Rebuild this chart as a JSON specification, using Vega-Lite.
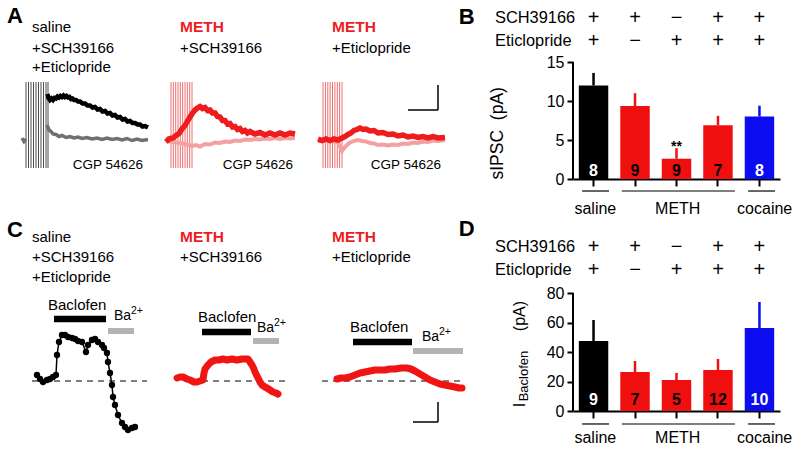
{
  "$schema": "https://vega.github.io/schema/vega-lite/v6.json",
  "background": "white",
  "padding": 0,
  "columns": 4,
  "bounds": "flush",
  "align": "each",
  "spacing": {"row": 41, "column": 0},
  "config": {
    "view": {"stroke": null},
    "font": "Liberation Sans",
    "axis": {"grid": false, "domainColor": "black", "tickColor": "black", "labelColor": "black", "titleColor": "black", "labelFont": "Liberation Sans", "titleFont": "Liberation Sans"}
  },
  "datasets": {
    "a1_stim": [{"t":40,"I":116,"I2":-56},{"t":65,"I":116,"I2":-56},{"t":90,"I":116,"I2":-56},{"t":115,"I":116,"I2":-56},{"t":140,"I":116,"I2":-56},{"t":165,"I":116,"I2":-56},{"t":190,"I":116,"I2":-56},{"t":215,"I":116,"I2":-56},{"t":240,"I":116,"I2":-56},{"t":260,"I":116,"I2":-56}],
    "a1_pre": [{"t":0,"I":4},{"t":20,"I":-3},{"t":40,"I":2}],
    "a1_gray": [{"t":250,"I":30},{"t":270,"I":20},{"t":290,"I":17},{"t":310,"I":12},{"t":340,"I":11},{"t":370,"I":7},{"t":400,"I":9},{"t":440,"I":5},{"t":480,"I":7},{"t":520,"I":4},{"t":560,"I":6},{"t":600,"I":3},{"t":650,"I":5},{"t":700,"I":2},{"t":750,"I":4},{"t":800,"I":1},{"t":850,"I":4},{"t":900,"I":1},{"t":950,"I":3},{"t":1000,"I":0},{"t":1050,"I":3},{"t":1100,"I":-1},{"t":1150,"I":2},{"t":1200,"I":-1},{"t":1260,"I":1}],
    "a1_black": [{"t":255,"I":92},{"t":265,"I":84},{"t":280,"I":80},{"t":295,"I":83},{"t":310,"I":80},{"t":325,"I":84},{"t":340,"I":83},{"t":355,"I":87},{"t":370,"I":85},{"t":385,"I":88},{"t":400,"I":86},{"t":415,"I":89},{"t":430,"I":86},{"t":445,"I":88},{"t":460,"I":85},{"t":475,"I":86},{"t":490,"I":82},{"t":505,"I":83},{"t":520,"I":80},{"t":540,"I":80},{"t":560,"I":77},{"t":580,"I":77},{"t":605,"I":73},{"t":630,"I":73},{"t":655,"I":69},{"t":680,"I":69},{"t":705,"I":65},{"t":730,"I":66},{"t":755,"I":61},{"t":780,"I":62},{"t":805,"I":57},{"t":830,"I":58},{"t":855,"I":53},{"t":880,"I":54},{"t":905,"I":49},{"t":930,"I":50},{"t":955,"I":45},{"t":980,"I":46},{"t":1005,"I":41},{"t":1030,"I":42},{"t":1055,"I":37},{"t":1080,"I":38},{"t":1105,"I":34},{"t":1130,"I":34},{"t":1155,"I":31},{"t":1180,"I":31},{"t":1205,"I":27},{"t":1230,"I":28},{"t":1260,"I":25}],
    "a1_letter": [{"t":-150,"I":248,"label":"A"}],
    "a1_txt": [{"t":100,"I":226,"label":"saline"},{"t":100,"I":184,"label":"+SCH39166"},{"t":100,"I":146,"label":"+Eticlopride"}],
    "a1_cgp": [{"t":1210,"I":-50,"label":"CGP 54626"}],
    "a2_stim": [{"t":40,"I":116,"I2":-56},{"t":63,"I":116,"I2":-56},{"t":87,"I":116,"I2":-56},{"t":110,"I":116,"I2":-56},{"t":133,"I":116,"I2":-56},{"t":157,"I":116,"I2":-56},{"t":180,"I":116,"I2":-56},{"t":203,"I":116,"I2":-56},{"t":227,"I":116,"I2":-56},{"t":250,"I":116,"I2":-56}],
    "a2_pink": [{"t":-10,"I":-2},{"t":60,"I":-4},{"t":120,"I":-6},{"t":180,"I":-8},{"t":250,"I":-12},{"t":290,"I":-10},{"t":330,"I":-13},{"t":380,"I":-8},{"t":430,"I":-9},{"t":480,"I":-5},{"t":530,"I":-6},{"t":580,"I":-3},{"t":630,"I":-4},{"t":680,"I":-1},{"t":730,"I":-2},{"t":780,"I":1},{"t":830,"I":0},{"t":880,"I":2},{"t":930,"I":1},{"t":980,"I":3},{"t":1030,"I":2},{"t":1080,"I":4},{"t":1130,"I":2},{"t":1180,"I":4},{"t":1230,"I":3},{"t":1280,"I":4}],
    "a2_red": [{"t":-10,"I":4},{"t":10,"I":0},{"t":30,"I":3},{"t":60,"I":4},{"t":90,"I":9},{"t":120,"I":13},{"t":150,"I":22},{"t":180,"I":29},{"t":200,"I":36},{"t":230,"I":46},{"t":255,"I":54},{"t":280,"I":60},{"t":305,"I":64},{"t":330,"I":67},{"t":355,"I":63},{"t":380,"I":65},{"t":405,"I":59},{"t":430,"I":60},{"t":455,"I":54},{"t":480,"I":54},{"t":505,"I":47},{"t":530,"I":46},{"t":555,"I":39},{"t":580,"I":39},{"t":605,"I":32},{"t":630,"I":33},{"t":655,"I":26},{"t":680,"I":27},{"t":705,"I":21},{"t":730,"I":23},{"t":755,"I":17},{"t":780,"I":19},{"t":805,"I":14},{"t":830,"I":17},{"t":880,"I":12},{"t":930,"I":15},{"t":980,"I":10},{"t":1030,"I":14},{"t":1080,"I":10},{"t":1130,"I":14},{"t":1180,"I":10},{"t":1230,"I":14},{"t":1280,"I":12}],
    "a2_meth": [{"t":130,"I":226,"label":"METH"}],
    "a2_txt": [{"t":130,"I":184,"label":"+SCH39166"}],
    "a2_cgp": [{"t":1260,"I":-50,"label":"CGP 54626"}],
    "a3_stim": [{"t":50,"I":116,"I2":-56},{"t":74,"I":116,"I2":-56},{"t":98,"I":116,"I2":-56},{"t":121,"I":116,"I2":-56},{"t":145,"I":116,"I2":-56},{"t":169,"I":116,"I2":-56},{"t":193,"I":116,"I2":-56},{"t":216,"I":116,"I2":-56},{"t":240,"I":116,"I2":-56}],
    "a3_pink": [{"t":0,"I":-2},{"t":100,"I":-2},{"t":200,"I":-4},{"t":240,"I":-22},{"t":260,"I":-16},{"t":290,"I":-10},{"t":320,"I":-5},{"t":360,"I":-2},{"t":400,"I":0},{"t":440,"I":-2},{"t":480,"I":-3},{"t":520,"I":-6},{"t":560,"I":-7},{"t":600,"I":-10},{"t":650,"I":-9},{"t":700,"I":-11},{"t":750,"I":-9},{"t":800,"I":-10},{"t":850,"I":-7},{"t":900,"I":-8},{"t":950,"I":-5},{"t":1000,"I":-6},{"t":1050,"I":-3},{"t":1100,"I":-4},{"t":1150,"I":-1},{"t":1200,"I":-2},{"t":1270,"I":0}],
    "a3_red": [{"t":0,"I":2},{"t":40,"I":-1},{"t":80,"I":2},{"t":120,"I":-1},{"t":160,"I":2},{"t":200,"I":0},{"t":240,"I":4},{"t":270,"I":7},{"t":300,"I":11},{"t":330,"I":14},{"t":360,"I":19},{"t":390,"I":21},{"t":420,"I":24},{"t":450,"I":21},{"t":480,"I":22},{"t":520,"I":18},{"t":560,"I":19},{"t":600,"I":14},{"t":650,"I":15},{"t":700,"I":11},{"t":750,"I":12},{"t":800,"I":8},{"t":850,"I":10},{"t":900,"I":6},{"t":950,"I":8},{"t":1000,"I":5},{"t":1050,"I":7},{"t":1100,"I":4},{"t":1150,"I":7},{"t":1200,"I":4},{"t":1270,"I":5}],
    "a3_meth": [{"t":140,"I":226,"label":"METH"}],
    "a3_txt": [{"t":140,"I":184,"label":"+Eticlopride"}],
    "a3_cgp": [{"t":1230,"I":-50,"label":"CGP 54626"}],
    "a3_bar": [{"t":1200,"I":60,"t2":1200,"I2":110},{"t":900,"I":60,"t2":1200,"I2":60}],
    "c1_trace": [{"t":0.5,"I":6},{"t":0.8,"I":2},{"t":1.1,"I":-1},{"t":1.5,"I":1},{"t":1.8,"I":2},{"t":2.1,"I":4},{"t":2.4,"I":6},{"t":2.5,"I":26},{"t":2.7,"I":39},{"t":3.0,"I":46},{"t":3.3,"I":46},{"t":3.6,"I":44},{"t":4.0,"I":43},{"t":4.3,"I":42},{"t":4.6,"I":40},{"t":5.0,"I":39},{"t":5.4,"I":29},{"t":5.6,"I":36},{"t":6.0,"I":41},{"t":6.3,"I":42},{"t":6.6,"I":39},{"t":7.0,"I":36},{"t":7.2,"I":33},{"t":7.5,"I":28},{"t":7.6,"I":19},{"t":7.8,"I":8},{"t":8.0,"I":-4},{"t":8.1,"I":-16},{"t":8.3,"I":-24},{"t":8.6,"I":-34},{"t":9.0,"I":-42},{"t":9.3,"I":-46},{"t":9.6,"I":-49},{"t":10.0,"I":-47},{"t":10.3,"I":-46}],
    "c1_dash": [{"t":0,"t2":11.5,"I":0}],
    "c1_bac": [{"t":2.2,"t2":7.4,"I":62}],
    "c1_ba": [{"t":7.6,"t2":10.2,"I":50}],
    "c1_letter": [{"t":-2.5,"I":151,"label":"C"}],
    "c1_txt": [{"t":0,"I":144,"label":"saline"},{"t":0,"I":124,"label":"+SCH39166"},{"t":0,"I":104,"label":"+Eticlopride"},{"t":1.6,"I":76,"label":"Baclofen"}],
    "c1_ba_txt": [{"t":8.2,"I":65,"label":"Ba"}],
    "c1_sup": [{"t":9.9,"I":70,"label":"2+"}],
    "c2_trace": [{"t":0,"I":3},{"t":0.3,"I":4},{"t":0.6,"I":4},{"t":1.0,"I":2},{"t":1.3,"I":1},{"t":1.7,"I":-1},{"t":2.0,"I":-1},{"t":2.3,"I":0},{"t":2.6,"I":1},{"t":2.7,"I":8},{"t":2.8,"I":12},{"t":3.1,"I":16},{"t":3.4,"I":19},{"t":3.8,"I":21},{"t":4.2,"I":21},{"t":4.6,"I":22},{"t":5.0,"I":21},{"t":5.5,"I":22},{"t":6.0,"I":21},{"t":6.5,"I":22},{"t":7.1,"I":22},{"t":7.3,"I":19},{"t":7.5,"I":16},{"t":7.7,"I":12},{"t":7.8,"I":9},{"t":8.0,"I":5},{"t":8.1,"I":3},{"t":8.3,"I":-1},{"t":8.5,"I":-4},{"t":8.8,"I":-6},{"t":9.0,"I":-7},{"t":9.3,"I":-9},{"t":9.6,"I":-11},{"t":9.9,"I":-12},{"t":10.1,"I":-13}],
    "c2_dash": [{"t":2.5,"t2":11.3,"I":0}],
    "c2_bac": [{"t":2.5,"t2":7.4,"I":49}],
    "c2_ba": [{"t":7.6,"t2":10.2,"I":40}],
    "c2_meth": [{"t":0.3,"I":144,"label":"METH"}],
    "c2_txt": [{"t":0.3,"I":124,"label":"+SCH39166"},{"t":2.1,"I":64,"label":"Baclofen"}],
    "c2_ba_txt": [{"t":8.0,"I":53,"label":"Ba"}],
    "c2_sup": [{"t":9.7,"I":58,"label":"2+"}],
    "c3_trace": [{"t":1.5,"I":2},{"t":1.9,"I":3},{"t":2.3,"I":3},{"t":2.8,"I":4},{"t":3.3,"I":6},{"t":3.8,"I":8},{"t":4.3,"I":9},{"t":4.8,"I":10},{"t":5.3,"I":11},{"t":5.8,"I":11},{"t":6.3,"I":11},{"t":6.8,"I":12},{"t":7.3,"I":12},{"t":7.9,"I":13},{"t":8.5,"I":13},{"t":8.9,"I":12},{"t":9.3,"I":10},{"t":9.8,"I":7},{"t":10.3,"I":4},{"t":10.8,"I":1},{"t":11.3,"I":-1},{"t":11.8,"I":-3},{"t":12.3,"I":-4},{"t":12.8,"I":-5},{"t":13.3,"I":-6},{"t":13.7,"I":-7},{"t":14.0,"I":-7}],
    "c3_dash": [{"t":0,"t2":14.0,"I":0}],
    "c3_bac": [{"t":3.1,"t2":9.0,"I":39}],
    "c3_ba": [{"t":9.1,"t2":14.1,"I":30}],
    "c3_meth": [{"t":1.0,"I":144,"label":"METH"}],
    "c3_txt": [{"t":1.0,"I":124,"label":"+Eticlopride"},{"t":2.8,"I":54,"label":"Baclofen"}],
    "c3_ba_txt": [{"t":10.0,"I":44.5,"label":"Ba"}],
    "c3_sup": [{"t":11.7,"I":49,"label":"2+"}],
    "c3_bar": [{"t":11.6,"I":-21,"t2":11.6,"I2":-41},{"t":9.1,"I":-41,"t2":11.6,"I2":-41}],
    "sipsc": [
      {"cond":"saline","mean":12.0,"hi":13.6,"n":"8","sch":"+","eti":"+","sig":""},
      {"cond":"METH SCH","mean":9.35,"hi":11.0,"n":"9","sch":"+","eti":"−","sig":""},
      {"cond":"METH Etic","mean":2.6,"hi":3.95,"n":"9","sch":"−","eti":"+","sig":"**"},
      {"cond":"METH SCH+Etic","mean":6.9,"hi":8.1,"n":"7","sch":"+","eti":"+","sig":""},
      {"cond":"cocaine","mean":8.0,"hi":9.4,"n":"8","sch":"+","eti":"+","sig":""}
    ],
    "ibac": [
      {"cond":"saline","mean":47.5,"hi":61.7,"n":"9","sch":"+","eti":"+"},
      {"cond":"METH SCH","mean":26.4,"hi":33.9,"n":"7","sch":"+","eti":"−"},
      {"cond":"METH Etic","mean":21.0,"hi":25.8,"n":"5","sch":"−","eti":"+"},
      {"cond":"METH SCH+Etic","mean":27.8,"hi":35.3,"n":"12","sch":"+","eti":"+"},
      {"cond":"cocaine","mean":56.3,"hi":73.9,"n":"10","sch":"+","eti":"+"}
    ],
    "groups": [{"from":0.22,"to":0.87,"mid":0.54,"label":"saline"},{"from":1.18,"to":3.91,"mid":2.53,"label":"METH"},{"from":4.23,"to":4.88,"mid":4.63,"label":"cocaine"}]
  },
  "concat": [
    {
      "width": 160, "height": 179,
      "encoding": {
        "x": {"field":"t","type":"quantitative","scale":{"domain":[-220,1380],"nice":false,"zero":false},"axis":null},
        "y": {"field":"I","type":"quantitative","scale":{"domain":[-78,280],"nice":false,"zero":false},"axis":null}
      },
      "layer": [
        {"data":{"name":"a1_stim"},"mark":{"type":"rule","color":"#4d4d4d","strokeWidth":1},"encoding":{"y2":{"field":"I2"}}},
        {"data":{"name":"a1_pre"},"mark":{"type":"line","color":"#707070","strokeWidth":3.5},"encoding":{}},
        {"data":{"name":"a1_gray"},"mark":{"type":"line","color":"#707070","strokeWidth":3.5},"encoding":{}},
        {"data":{"name":"a1_black"},"mark":{"type":"line","color":"#000000","strokeWidth":4.5},"encoding":{}},
        {"data":{"name":"a1_letter"},"mark":{"type":"text","fontSize":22,"fontWeight":"bold","align":"left","baseline":"middle"},"encoding":{"text":{"field":"label"}}},
        {"data":{"name":"a1_txt"},"mark":{"type":"text","fontSize":15,"align":"left","baseline":"middle"},"encoding":{"text":{"field":"label"}}},
        {"data":{"name":"a1_cgp"},"mark":{"type":"text","fontSize":13.5,"align":"right","baseline":"middle"},"encoding":{"text":{"field":"label"}}}
      ]
    },
    {
      "width": 150, "height": 179,
      "encoding": {
        "x": {"field":"t","type":"quantitative","scale":{"domain":[-70,1430],"nice":false,"zero":false},"axis":null},
        "y": {"field":"I","type":"quantitative","scale":{"domain":[-78,280],"nice":false,"zero":false},"axis":null}
      },
      "layer": [
        {"data":{"name":"a2_stim"},"mark":{"type":"rule","color":"#ee7070","strokeWidth":1},"encoding":{"y2":{"field":"I2"}}},
        {"data":{"name":"a2_pink"},"mark":{"type":"line","color":"#f4a0a0","strokeWidth":4},"encoding":{}},
        {"data":{"name":"a2_red"},"mark":{"type":"line","color":"#ee1c1c","strokeWidth":5.5},"encoding":{}},
        {"data":{"name":"a2_meth"},"mark":{"type":"text","fontSize":15.5,"fontWeight":"bold","color":"#ed1c24","align":"left","baseline":"middle"},"encoding":{"text":{"field":"label"}}},
        {"data":{"name":"a2_txt"},"mark":{"type":"text","fontSize":15,"align":"left","baseline":"middle"},"encoding":{"text":{"field":"label"}}},
        {"data":{"name":"a2_cgp"},"mark":{"type":"text","fontSize":13.5,"align":"right","baseline":"middle"},"encoding":{"text":{"field":"label"}}}
      ]
    },
    {
      "width": 263, "height": 179,
      "encoding": {
        "x": {"field":"t","type":"quantitative","scale":{"domain":[-80,2550],"nice":false,"zero":false},"axis":null},
        "y": {"field":"I","type":"quantitative","scale":{"domain":[-78,280],"nice":false,"zero":false},"axis":null}
      },
      "layer": [
        {"data":{"name":"a3_stim"},"mark":{"type":"rule","color":"#ee7070","strokeWidth":1},"encoding":{"y2":{"field":"I2"}}},
        {"data":{"name":"a3_pink"},"mark":{"type":"line","color":"#f4a0a0","strokeWidth":4},"encoding":{}},
        {"data":{"name":"a3_red"},"mark":{"type":"line","color":"#ee1c1c","strokeWidth":5.5},"encoding":{}},
        {"data":{"name":"a3_bar"},"mark":{"type":"rule","color":"black","strokeWidth":1.5},"encoding":{"x2":{"field":"t2"},"y2":{"field":"I2"}}},
        {"data":{"name":"a3_meth"},"mark":{"type":"text","fontSize":15.5,"fontWeight":"bold","color":"#ed1c24","align":"left","baseline":"middle"},"encoding":{"text":{"field":"label"}}},
        {"data":{"name":"a3_txt"},"mark":{"type":"text","fontSize":15,"align":"left","baseline":"middle"},"encoding":{"text":{"field":"label"}}},
        {"data":{"name":"a3_cgp"},"mark":{"type":"text","fontSize":13.5,"align":"right","baseline":"middle"},"encoding":{"text":{"field":"label"}}}
      ]
    },
    {
      "width": 207, "height": 179,
      "resolve": {"scale": {"x": "independent"}},
      "layer": [
        {
          "data": {"name": "sipsc"},
          "encoding": {"x": {"field":"cond","type":"nominal","scale":{"domain":["saline","METH SCH","METH Etic","METH SCH+Etic","cocaine"],"paddingInner":0.29,"paddingOuter":0.14},"axis":{"labels":false,"ticks":true,"tickSize":7,"tickWidth":2,"domain":true,"domainWidth":2,"title":null}}},
          "layer": [
            {"mark":{"type":"bar"},"encoding":{"y":{"field":"mean","type":"quantitative","scale":{"domain":[0,22.95],"nice":false,"zero":false},"axis":{"values":[0,5,10,15],"domain":false,"ticks":true,"tickSize":6,"tickWidth":2,"labelFontSize":16,"labelPadding":3,"title":"sIPSC\u00a0\u00a0(pA)","titleFontSize":17.5,"titleFontWeight":"normal","titleAnchor":"start","titlePadding":40}},"color":{"field":"cond","type":"nominal","scale":{"domain":["saline","METH SCH","METH Etic","METH SCH+Etic","cocaine"],"range":["#000000","#f00f0f","#f00f0f","#f00f0f","#0c0cf0"]},"legend":null}}},
            {"mark":{"type":"rule","strokeWidth":2.5},"encoding":{"y":{"field":"mean","type":"quantitative"},"y2":{"field":"hi"},"color":{"field":"cond","type":"nominal","legend":null}}},
            {"mark":{"type":"text","fontSize":16,"fontWeight":"bold","baseline":"middle"},"encoding":{"y":{"datum":1.03},"text":{"field":"n"},"color":{"condition":{"test":"datum.cond === 'saline' || datum.cond === 'cocaine'","value":"white"},"value":"black"}}},
            {"mark":{"type":"text","fontSize":14,"fontWeight":"bold","baseline":"alphabetic"},"encoding":{"y":{"datum":3.6},"text":{"field":"sig"}}},
            {"mark":{"type":"text","fontSize":20,"baseline":"middle"},"encoding":{"y":{"datum":20.64},"text":{"field":"sch"}}},
            {"mark":{"type":"text","fontSize":20,"baseline":"middle"},"encoding":{"y":{"datum":17.69},"text":{"field":"eti"}}}
          ]
        },
        {
          "layer": [
            {"data":{"name":"groups"},"mark":{"type":"rule","color":"black","strokeWidth":1.2},"encoding":{"x":{"field":"from","type":"quantitative","scale":{"domain":[0,5],"nice":false,"zero":false},"axis":null},"x2":{"field":"to"},"y":{"datum":-1.54}}},
            {"data":{"name":"groups"},"mark":{"type":"text","fontSize":16,"baseline":"middle"},"encoding":{"x":{"field":"mid","type":"quantitative","axis":null},"y":{"datum":-3.85},"text":{"field":"label"}}},
            {"data":{"values":[{}]},"mark":{"type":"rule","color":"black","strokeWidth":2},"encoding":{"x":{"datum":0,"axis":null},"y":{"datum":0},"y2":{"datum":15}}},
            {"data":{"values":[{}]},"mark":{"type":"text","fontSize":16.4,"align":"left","baseline":"middle"},"encoding":{"x":{"datum":-1.884,"axis":null},"y":{"datum":20.64},"text":{"value":"SCH39166"}}},
            {"data":{"values":[{}]},"mark":{"type":"text","fontSize":16.4,"align":"left","baseline":"middle"},"encoding":{"x":{"datum":-1.884,"axis":null},"y":{"datum":17.69},"text":{"value":"Eticlopride"}}},
            {"data":{"values":[{}]},"mark":{"type":"text","fontSize":22,"fontWeight":"bold","baseline":"middle"},"encoding":{"x":{"datum":-2.57,"axis":null},"y":{"datum":20.83},"text":{"value":"B"}}}
          ]
        }
      ]
    },
    {
      "width": 160, "height": 191,
      "encoding": {
        "x": {"field":"t","type":"quantitative","scale":{"domain":[-3.2,12.8],"nice":false,"zero":false},"axis":null},
        "y": {"field":"I","type":"quantitative","scale":{"domain":[-30,161],"nice":false,"zero":false},"axis":null}
      },
      "layer": [
        {"data":{"name":"c1_dash"},"mark":{"type":"rule","color":"black","strokeWidth":1.2,"strokeDash":[6,5]},"encoding":{"x2":{"field":"t2"}}},
        {"data":{"name":"c1_bac"},"mark":{"type":"rule","color":"black","strokeWidth":6.5},"encoding":{"x2":{"field":"t2"}}},
        {"data":{"name":"c1_ba"},"mark":{"type":"rule","color":"#b3b3b3","strokeWidth":6},"encoding":{"x2":{"field":"t2"}}},
        {"data":{"name":"c1_trace"},"mark":{"type":"line","color":"black","strokeWidth":1.5,"point":{"filled":true,"size":40,"color":"black"}},"encoding":{}},
        {"data":{"name":"c1_letter"},"mark":{"type":"text","fontSize":22,"fontWeight":"bold","align":"left","baseline":"middle"},"encoding":{"text":{"field":"label"}}},
        {"data":{"name":"c1_txt"},"mark":{"type":"text","fontSize":15,"align":"left","baseline":"middle"},"encoding":{"text":{"field":"label"}}},
        {"data":{"name":"c1_ba_txt"},"mark":{"type":"text","fontSize":14,"align":"left","baseline":"middle"},"encoding":{"text":{"field":"label"}}},
        {"data":{"name":"c1_sup"},"mark":{"type":"text","fontSize":10.5,"align":"left","baseline":"middle"},"encoding":{"text":{"field":"label"}}}
      ]
    },
    {
      "width": 150, "height": 191,
      "encoding": {
        "x": {"field":"t","type":"quantitative","scale":{"domain":[-1.7,13.3],"nice":false,"zero":false},"axis":null},
        "y": {"field":"I","type":"quantitative","scale":{"domain":[-30,161],"nice":false,"zero":false},"axis":null}
      },
      "layer": [
        {"data":{"name":"c2_dash"},"mark":{"type":"rule","color":"black","strokeWidth":1.2,"strokeDash":[6,5]},"encoding":{"x2":{"field":"t2"}}},
        {"data":{"name":"c2_bac"},"mark":{"type":"rule","color":"black","strokeWidth":6.5},"encoding":{"x2":{"field":"t2"}}},
        {"data":{"name":"c2_ba"},"mark":{"type":"rule","color":"#b3b3b3","strokeWidth":6},"encoding":{"x2":{"field":"t2"}}},
        {"data":{"name":"c2_trace"},"mark":{"type":"line","color":"#f01414","strokeWidth":7,"strokeCap":"round","strokeJoin":"round"},"encoding":{}},
        {"data":{"name":"c2_meth"},"mark":{"type":"text","fontSize":15.5,"fontWeight":"bold","color":"#ed1c24","align":"left","baseline":"middle"},"encoding":{"text":{"field":"label"}}},
        {"data":{"name":"c2_txt"},"mark":{"type":"text","fontSize":15,"align":"left","baseline":"middle"},"encoding":{"text":{"field":"label"}}},
        {"data":{"name":"c2_ba_txt"},"mark":{"type":"text","fontSize":14,"align":"left","baseline":"middle"},"encoding":{"text":{"field":"label"}}},
        {"data":{"name":"c2_sup"},"mark":{"type":"text","fontSize":10.5,"align":"left","baseline":"middle"},"encoding":{"text":{"field":"label"}}}
      ]
    },
    {
      "width": 263, "height": 191,
      "encoding": {
        "x": {"field":"t","type":"quantitative","scale":{"domain":[-1.2,25.1],"nice":false,"zero":false},"axis":null},
        "y": {"field":"I","type":"quantitative","scale":{"domain":[-30,161],"nice":false,"zero":false},"axis":null}
      },
      "layer": [
        {"data":{"name":"c3_dash"},"mark":{"type":"rule","color":"black","strokeWidth":1.2,"strokeDash":[6,5]},"encoding":{"x2":{"field":"t2"}}},
        {"data":{"name":"c3_bac"},"mark":{"type":"rule","color":"black","strokeWidth":6.5},"encoding":{"x2":{"field":"t2"}}},
        {"data":{"name":"c3_ba"},"mark":{"type":"rule","color":"#b3b3b3","strokeWidth":6},"encoding":{"x2":{"field":"t2"}}},
        {"data":{"name":"c3_trace"},"mark":{"type":"line","color":"#f01414","strokeWidth":7,"strokeCap":"round","strokeJoin":"round"},"encoding":{}},
        {"data":{"name":"c3_bar"},"mark":{"type":"rule","color":"black","strokeWidth":1.5},"encoding":{"x2":{"field":"t2"},"y2":{"field":"I2"}}},
        {"data":{"name":"c3_meth"},"mark":{"type":"text","fontSize":15.5,"fontWeight":"bold","color":"#ed1c24","align":"left","baseline":"middle"},"encoding":{"text":{"field":"label"}}},
        {"data":{"name":"c3_txt"},"mark":{"type":"text","fontSize":15,"align":"left","baseline":"middle"},"encoding":{"text":{"field":"label"}}},
        {"data":{"name":"c3_ba_txt"},"mark":{"type":"text","fontSize":14,"align":"left","baseline":"middle"},"encoding":{"text":{"field":"label"}}},
        {"data":{"name":"c3_sup"},"mark":{"type":"text","fontSize":10.5,"align":"left","baseline":"middle"},"encoding":{"text":{"field":"label"}}}
      ]
    },
    {
      "width": 207, "height": 191,
      "resolve": {"scale": {"x": "independent"}},
      "layer": [
        {
          "data": {"name": "ibac"},
          "encoding": {"x": {"field":"cond","type":"nominal","scale":{"domain":["saline","METH SCH","METH Etic","METH SCH+Etic","cocaine"],"paddingInner":0.29,"paddingOuter":0.14},"axis":{"labels":false,"ticks":true,"tickSize":7,"tickWidth":2,"domain":true,"domainWidth":2,"title":null}}},
          "layer": [
            {"mark":{"type":"bar"},"encoding":{"y":{"field":"mean","type":"quantitative","scale":{"domain":[0,129.5],"nice":false,"zero":false},"axis":{"values":[0,20,40,60,80],"domain":false,"ticks":true,"tickSize":6,"tickWidth":2,"labelFontSize":16,"labelPadding":3,"title":null}},"color":{"field":"cond","type":"nominal","scale":{"domain":["saline","METH SCH","METH Etic","METH SCH+Etic","cocaine"],"range":["#000000","#f00f0f","#f24848","#f00f0f","#0c0cf0"]},"legend":null}}},
            {"mark":{"type":"rule","strokeWidth":2.5},"encoding":{"y":{"field":"mean","type":"quantitative"},"y2":{"field":"hi"},"color":{"field":"cond","type":"nominal","legend":null}}},
            {"mark":{"type":"text","fontSize":16,"fontWeight":"bold","baseline":"middle"},"encoding":{"y":{"datum":7.5},"text":{"field":"n"},"color":{"condition":{"test":"datum.cond === 'saline' || datum.cond === 'cocaine'","value":"white"},"value":"black"}}},
            {"mark":{"type":"text","fontSize":20,"baseline":"middle"},"encoding":{"y":{"datum":111.2},"text":{"field":"sch"}}},
            {"mark":{"type":"text","fontSize":20,"baseline":"middle"},"encoding":{"y":{"datum":95.6},"text":{"field":"eti"}}}
          ]
        },
        {
          "layer": [
            {"data":{"name":"groups"},"mark":{"type":"rule","color":"black","strokeWidth":1.2},"encoding":{"x":{"field":"from","type":"quantitative","scale":{"domain":[0,5],"nice":false,"zero":false},"axis":null},"x2":{"field":"to"},"y":{"datum":-8.8}}},
            {"data":{"name":"groups"},"mark":{"type":"text","fontSize":16,"baseline":"middle"},"encoding":{"x":{"field":"mid","type":"quantitative","axis":null},"y":{"datum":-18.3},"text":{"field":"label"}}},
            {"data":{"values":[{}]},"mark":{"type":"rule","color":"black","strokeWidth":2},"encoding":{"x":{"datum":0,"axis":null},"y":{"datum":0},"y2":{"datum":80}}},
            {"data":{"values":[{}]},"mark":{"type":"text","fontSize":16.4,"align":"left","baseline":"middle"},"encoding":{"x":{"datum":-1.884,"axis":null},"y":{"datum":111.2},"text":{"value":"SCH39166"}}},
            {"data":{"values":[{}]},"mark":{"type":"text","fontSize":16.4,"align":"left","baseline":"middle"},"encoding":{"x":{"datum":-1.884,"axis":null},"y":{"datum":95.6},"text":{"value":"Eticlopride"}}},
            {"data":{"values":[{}]},"mark":{"type":"text","fontSize":22,"fontWeight":"bold","baseline":"middle"},"encoding":{"x":{"datum":-2.57,"axis":null},"y":{"datum":123.4},"text":{"value":"D"}}},
            {"data":{"values":[{}]},"mark":{"type":"text","fontSize":16,"angle":270,"align":"center","baseline":"alphabetic"},"encoding":{"x":{"datum":-1.16,"axis":null},"y":{"datum":4.1},"text":{"value":"I"}}},
            {"data":{"values":[{}]},"mark":{"type":"text","fontSize":13,"angle":270,"align":"center","baseline":"alphabetic"},"encoding":{"x":{"datum":-1.09,"axis":null},"y":{"datum":23.7},"text":{"value":"Baclofen"}}},
            {"data":{"values":[{}]},"mark":{"type":"text","fontSize":16,"angle":270,"align":"center","baseline":"alphabetic"},"encoding":{"x":{"datum":-1.16,"axis":null},"y":{"datum":64.4},"text":{"value":"(pA)"}}}
          ]
        }
      ]
    }
  ]
}
